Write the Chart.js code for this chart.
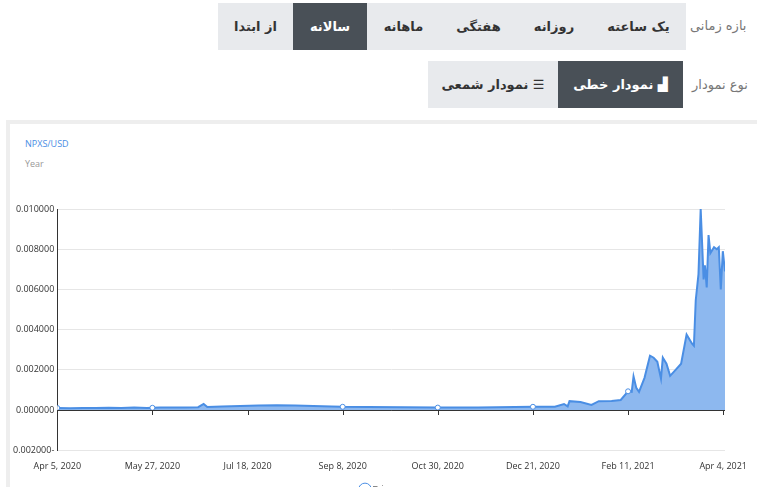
<!DOCTYPE html>
<html><head><meta charset="utf-8">
<script src="https://cdn.jsdelivr.net/npm/chart.js@4"></script>
<style>
body{margin:0;width:757px;height:487px;overflow:hidden;background:#fff;font-family:"DejaVu Sans",sans-serif;position:relative}
.b{position:absolute;background:#e8eaed;color:#333;font-weight:bold;font-size:13px;display:flex;align-items:center;justify-content:center;direction:rtl}
.a{background:#495057;color:#fff}
.l{position:absolute;color:#777;font-size:13px;direction:rtl}
#card{position:absolute;left:6px;top:120px;width:751px;height:380px;border:4px solid #eee;border-right:none;box-sizing:border-box;background:#fff}
#wrap{position:absolute;left:10px;top:124px;width:740px;height:380px}
.t{position:absolute;font-family:"Open Sans",sans-serif;font-size:9px}
</style></head><body>
<div class="l" style="left:690px;top:18px">بازه زمانی</div>
<div class="b" style="left:591px;top:3px;width:95px;height:47px">یک ساعته</div>
<div class="b" style="left:517px;top:3px;width:74px;height:47px">روزانه</div>
<div class="b" style="left:440px;top:3px;width:77px;height:47px">هفتگی</div>
<div class="b" style="left:367px;top:3px;width:73px;height:47px">ماهانه</div>
<div class="b a" style="left:293px;top:3px;width:74px;height:47px">سالانه</div>
<div class="b" style="left:218px;top:3px;width:75px;height:47px">از ابتدا</div>
<div class="l" style="left:692px;top:77px">نوع نمودار</div>
<div class="b a" style="left:558px;top:61px;width:125px;height:47px">▟ نمودار خطی</div>
<div class="b" style="left:428px;top:61px;width:130px;height:47px">☰ نمودار شمعی</div>
<div id="card"></div>
<div class="t" style="left:25px;top:137px;color:#4a8ee4">NPXS/USD</div>
<div class="t" style="left:25px;top:157px;color:#999">Year</div>
<div id="wrap"><canvas id="c" width="740" height="380" style="width:740px;height:380px"></canvas></div>
<script>
const startDate = new Date(2020,3,5);
const tickDays = [0,52,104,156,208,260,312,364];
const markerDays = [0,52,156,208,260,312,364];
const days = [0,7,14,21,28,35,42,49,52,56,63,70,77,80,82,90,100,110,120,130,140,150,156,170,190,208,230,250,260,264,272,277,279,280,286,292,296,303,308,312,314,315,316.5,318,321,324,326,328,330,331,333,335,338,341,344,347,348,349,350.5,351.7,353.3,354,355,356,357,359,360.5,361.6,362.7,363.8,365];
const prices = [0.00010,0.00009,0.00010,0.00010,0.00011,0.00010,0.00012,0.00010,0.00011,0.00012,0.00013,0.00012,0.00014,0.00030,0.00015,0.00018,0.00020,0.00022,0.00024,0.00022,0.00020,0.00018,0.00016,0.00015,0.00014,0.00012,0.00013,0.00015,0.00016,0.00016,0.00016,0.00030,0.00018,0.00044,0.00040,0.00025,0.00044,0.00045,0.00050,0.00093,0.00090,0.00167,0.00110,0.00090,0.00160,0.00270,0.00260,0.00240,0.00156,0.00260,0.00230,0.00170,0.00200,0.00230,0.00375,0.00330,0.00320,0.00546,0.00676,0.01000,0.00650,0.00720,0.00610,0.00870,0.00780,0.00810,0.00800,0.00810,0.00600,0.00790,0.00690];
const yTicks = [-0.002,0,0.002,0.004,0.006,0.008,0.01];
const M=['Jan','Feb','Mar','Apr','May','Jun','Jul','Aug','Sep','Oct','Nov','Dec'];
function fmt(d){const t=new Date(startDate.getTime()+d*864e5);return M[t.getMonth()]+' '+t.getDate()+', '+t.getFullYear();}
const zeroAxis={id:'z',afterDatasetsDraw(ch){const x=ch.scales.x,y=ch.scales.y,c=ch.ctx,p=Math.round(y.getPixelForValue(0));
c.save();c.strokeStyle='#333';c.lineWidth=1;c.beginPath();c.moveTo(x.left,p+0.5);c.lineTo(x.right,p+0.5);
tickDays.forEach(d=>{const px=Math.round(x.getPixelForValue(d))+0.5;c.moveTo(px,p);c.lineTo(px,p+5);});c.stroke();c.restore();}};
new Chart(document.getElementById('c'),{type:'line',
data:{datasets:[{label:'Price',data:days.map((d,i)=>({x:d,y:prices[i]})),borderColor:'#4a8ee4',backgroundColor:'#8db8ef',fill:'origin',borderWidth:2,tension:0,
pointRadius:days.map(d=>markerDays.includes(d)?2.5:0),pointBackgroundColor:'#fff',pointBorderColor:'#4a8ee4',pointBorderWidth:1}]},
options:{responsive:false,animation:false,maintainAspectRatio:false,
layout:{padding:{top:85,right:5,left:0}},
plugins:{legend:{position:'bottom',labels:{usePointStyle:true,boxWidth:6,font:{size:9},color:'#666'}},tooltip:{enabled:false}},
scales:{x:{type:'linear',min:0,max:365,afterBuildTicks:s=>{s.ticks=tickDays.map(v=>({value:v}));},
ticks:{callback:v=>fmt(v),maxRotation:0,autoSkip:false,color:'#333',font:{family:'Open Sans',size:9}},
grid:{display:false},border:{display:false}},
y:{min:-0.002,max:0.01,afterBuildTicks:s=>{s.ticks=yTicks.map(v=>({value:v}));},
ticks:{callback:v=>v<0?Math.abs(v).toFixed(6)+'-':v.toFixed(6),color:'#333',font:{family:'Open Sans',size:9}},
grid:{color:'#e6e6e6',drawTicks:false,tickLength:5},border:{display:true,color:'#333'}}}},
plugins:[zeroAxis]});
</script></body></html>
